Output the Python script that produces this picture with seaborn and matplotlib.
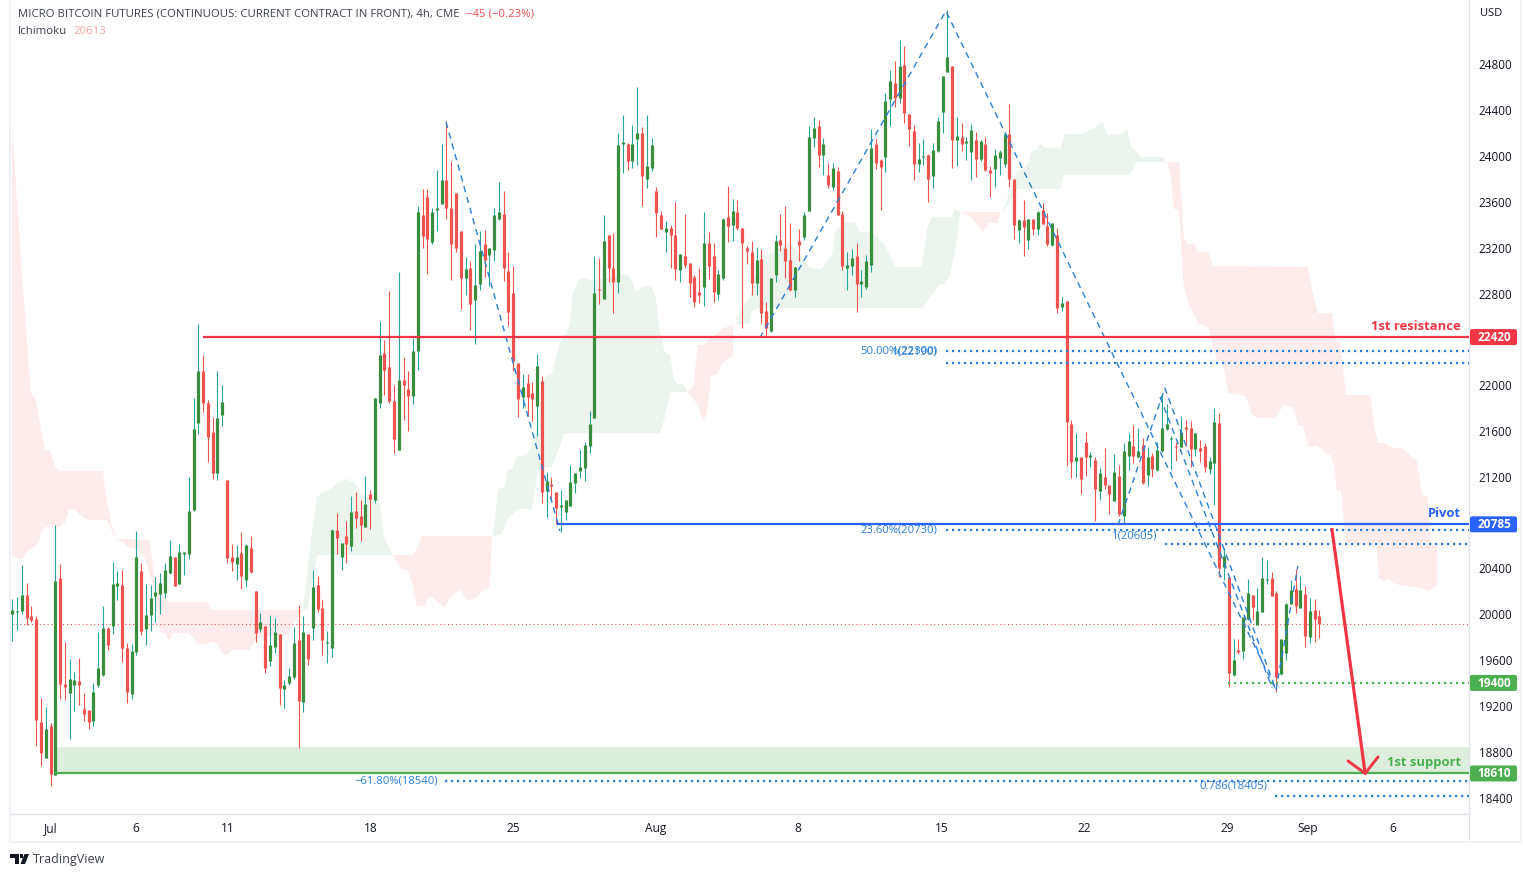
import matplotlib
matplotlib.use("Agg")
import matplotlib.pyplot as plt
from matplotlib.patches import Polygon, Rectangle, FancyBboxPatch
from matplotlib.transforms import IdentityTransform
import pandas as pd
import seaborn as sns

directions = ("GGGRRRRGRG" "RRGGRRRGGG" "RGGRRGGRGG" "GGGGRGGGGG" "RRRGGRRGRG" "RRGRGGRGGG" "RGRGRRGGRG"
              "RGRRGRGGRR" "RGRRGGRRGG" "GRRRRGRGGR" "GGGRRRRGRR" "GRGRRGGGGG" "GGGRGRRGGR" "GGRGGRRGRR"
              "GRRRRGRRGG" "RGRRRRGRRG" "GRRRGRGGGR" "GRGRRGGRGG" "GRRGGRGRRR" "GGRGGGGRGR" "GGRGRRGGGR"
              "RGRGRGRRGR" "GRRGRRGRGR" "RGRGGRGRGR" "GGGGRGRRGR" "RGGRGRGRGG" "RGGGRRGGGR" "GRGRR")

highs = [20134,20151,20431,20273,20073,19985,19269,19191,19051,20780,
 20439,19758,19610,19496,19619,19313,19165,19400,19846,20073,
 19889,20457,20378,20387,19750,19741,20727,20448,20265,20256,
 20326,20361,20448,20649,20500,20614,20544,21199,21888,22534,
 22264,21871,21723,22124,22002,21173,20614,20605,20719,20614,
 20684,20204,20013,19899,19996,19968,19827,19423,19534,19889,
 20082,19985,19827,20385,20330,20123,19854,20744,20885,20623,
 20813,21034,21071,20996,21206,21085,21885,22558,22392,22820,
 21999,22985,22244,22123,22416,23561,23716,23709,23551,23875,
 24109,24309,23961,23682,23344,23123,23082,23230,23344,23351,
 23195,23551,23778,23692,23161,23037,22192,22098,22098,22029,
 22273,22081,21243,21199,21068,21086,20998,21304,21234,21435,
 21505,21775,23129,23111,23486,23312,23329,24202,24359,24115,
 24272,24604,24255,24359,24159,23731,23521,23434,23399,23600,
 23146,23495,23067,22963,23024,23513,23338,23242,23006,23460,
 23740,23626,23617,23373,23216,23259,23207,23190,22727,22936,
 23311,23495,23565,23416,23032,23364,23512,24263,24342,24315,
 24158,23940,23940,23905,23521,23163,23189,23242,23006,23137,
 24237,24150,23975,24551,24752,24830,25014,24961,24368,24272,
 24115,24150,24019,24115,24342,24699,25276,24787,24342,24289,
 24167,24280,24211,24141,24167,23914,24062,24054,24193,24455,
 23800,23451,23617,23451,23451,23521,23591,23503,23416,23373,
 22770,22735,21696,21583,21373,21592,21417,21373,21277,21452,
 21129,21400,21304,21496,21583,21653,21627,21539,21461,21408,
 21504,21915,21836,21557,21504,21731,21696,21688,21583,21522,
 21496,21373,21801,21757,20579,20326,19784,19784,19977,20308,
 20169,20230,20500,20474,20369,20204,19784,20099,20300,20396,
 20334,20247,20142,20134,20038]

tops = [20038,20029,20169,20169,19985,19959,19060,19001,19025,20291,
 20317,19392,19435,19427,19418,19173,19165,19322,19531,19881,
 19881,20265,20273,20256,19706,19680,20500,20378,19994,20142,
 20195,20273,20387,20509,20500,20544,20544,20902,21618,22124,
 22124,21845,21592,21714,21854,21173,20500,20500,20535,20605,
 20579,20204,19934,19899,19734,19847,19827,19385,19461,19751,
 19775,19847,19827,20237,20254,20054,19758,20737,20737,20623,
 20682,20892,20903,20858,20961,21051,21885,22261,22278,22158,
 21861,22044,22044,21965,22296,23516,23482,23647,23509,23551,
 23795,23795,23551,23682,23344,23013,23020,22871,23168,23237,
 23195,23482,23509,23492,22995,22809,22192,21985,22020,21932,
 22168,22037,21164,21138,21068,20955,20998,21156,21234,21287,
 21479,21662,22805,22840,23259,23312,23024,24098,24124,24106,
 24106,24202,24202,23914,24098,23696,23486,23373,23373,23312,
 23146,23129,23067,22945,22814,23242,23242,23129,22971,23452,
 23469,23521,23513,23373,23198,23163,23094,23102,22648,22936,
 23259,23268,23198,23093,23032,23259,23486,24167,24246,24263,
 24106,23835,23896,23870,23495,23050,23111,23128,22910,23085,
 24071,24106,23966,24481,24656,24638,24787,24796,24368,24219,
 23975,24001,24010,24054,24307,24699,24865,24787,24176,24167,
 24132,24228,24141,24132,24106,23879,24010,24036,24193,24193,
 23800,23442,23442,23451,23451,23512,23530,23390,23416,23311,
 22718,22735,21661,21373,21373,21504,21391,21347,21234,21199,
 21129,21242,21208,21426,21513,21469,21426,21478,21373,21382,
 21434,21627,21661,21539,21469,21592,21635,21627,21583,21452,
 21469,21338,21679,21670,20509,20326,19601,19689,19977,20186,
 20169,20029,20317,20308,20317,20186,19784,20090,20212,20221,
 20212,20177,20029,20038,19985]

bottoms = [20006,20020,20029,19971,19950,19077,18789,18746,18606,18597,
 19392,19366,19313,19383,19383,19130,19060,19069,19383,19470,
 19732,19898,20247,19706,19322,19304,19671,19854,19872,19994,
 20160,20177,20186,20361,20247,20265,20527,20527,20911,21670,
 21845,21548,21234,21234,21740,20492,20457,20439,20335,20300,
 20369,19837,19872,19534,19592,19716,19358,19347,19403,19454,
 19244,19237,19609,19882,20047,19775,19751,19706,20665,20499,
 20613,20596,20840,20778,20761,21006,20996,21844,22130,21858,
 21530,21433,21999,21902,21902,22296,23299,23275,23254,23533,
 23578,23544,23230,23195,22933,22940,22706,22740,22882,23089,
 23137,23182,23451,23020,22640,22213,21882,21898,21898,21880,
 21819,21068,21077,21121,20929,20937,20894,20946,21147,21252,
 21278,21470,21714,22832,22753,23024,22901,22901,24106,23958,
 23958,24150,23827,23801,23897,23504,23364,23338,23312,23015,
 23006,23050,22893,22727,22788,22858,23041,22814,22797,22936,
 23390,23399,23373,23242,23172,22893,22893,22631,22500,22473,
 22962,23224,23085,22831,22831,23224,23294,23521,24158,24010,
 24010,23748,23730,23486,23041,23023,23041,22884,22884,22857,
 23050,23940,23905,23992,24499,24507,24507,24376,24237,23931,
 23931,23992,23800,23827,24045,24385,24734,24141,24141,24106,
 24115,24036,23975,23975,23879,23853,23888,23984,23931,23800,
 23399,23355,23381,23268,23364,23364,23407,23233,23224,22674,
 22683,21679,21330,21338,21181,21373,21373,21094,21077,21129,
 21050,20989,20876,20858,21382,21382,21373,21146,21216,21269,
 21260,21426,21618,21530,21461,21461,21618,21443,21443,21426,
 21286,21269,21321,20404,20413,19488,19470,19671,19680,19959,
 20064,19907,20020,20300,20160,19453,19479,19662,20090,20073,
 20055,19811,19802,19959,19915]

lows = [19770,19863,20003,19907,19933,18850,18676,18746,18501,18597,
 19261,19252,18912,19156,19208,19069,18999,19025,19366,19461,
 19688,19828,20125,19584,19226,19261,19645,19819,19732,19854,
 19933,20003,20142,20352,20247,20265,20343,20483,20902,21574,
 21766,21330,21181,21173,21644,20448,20378,20300,20221,20238,
 20361,19758,19847,19489,19551,19658,19210,19178,19379,19437,
 18830,19147,19561,19775,20020,19644,19575,19627,20527,20382,
 20447,20554,20754,20641,20761,20744,20975,21802,21913,21844,
 21406,21433,21696,21599,21833,22130,23202,22975,23237,23344,
 23578,23447,22916,23161,22661,22785,22478,22358,22827,22947,
 22864,23082,23444,22906,22513,22123,21720,21802,21740,21688,
 21557,20972,20850,20990,20789,20719,20824,20946,21060,21190,
 21164,21409,21714,22709,22753,22901,22631,22805,23853,23879,
 23897,23923,23565,23722,23871,23294,23364,23163,23024,22919,
 22901,23024,22771,22683,22718,22692,22928,22727,22744,22919,
 23251,23259,23356,22500,23059,22788,22788,22544,22430,22465,
 22901,23172,22936,22823,22770,23085,23268,23521,24080,23905,
 23835,23722,23704,23486,23006,22831,22962,22639,22770,22840,
 22988,23888,23530,23861,24263,24429,24464,24289,24088,23792,
 23861,23923,23599,23722,24036,24202,24734,23896,23914,24045,
 23966,23792,23818,23957,23870,23643,23730,23835,23905,23730,
 23277,23242,23128,23189,23311,23311,23407,23215,23215,22631,
 22648,21295,21190,21199,21050,21207,21286,20815,20998,21094,
 20876,20989,20858,20788,21260,21321,21373,21138,21120,21199,
 21251,21417,21609,21269,21338,21461,21469,21289,21382,21330,
 21242,21225,20954,20326,20300,19366,19462,19654,19610,19950,
 19950,19907,20020,20265,20160,19322,19470,19601,20090,20012,
 20055,19715,19749,19758,19793]

# Ichimoku cloud outlines: (bar index, price)
cloud_red = [
 [(-0.1,24272),(2.4,22744),(3.9,21932),(4.9,21871),(6.8,21434),(7.9,21434),(8.9,21286),(10,21251),(19,21251),
  (19.8,20998),(20.9,20762),(21.9,20648),(23,20657),(28.8,20648),(29.9,20299),(30.9,20212),(32.6,20107),(41,20107),
  (41.8,20037),(60.9,20037),(58.8,19915),(57.8,19819),(51.9,19801),(50.9,19775),(49.8,19688),(46,19688),(45,19644),
  (43.9,19662),(42.9,19749),(41.8,19758),(40.8,19740),(38.9,19740),(37.9,19801),(36.8,19836),(33.7,19836),(32.8,19758),
  (32,19836),(30.9,19845),(29.5,20238),(28.4,20413),(27.4,20517),(26.1,20570),(24.2,20587),(23,20640),(21.9,20640),
  (19.8,20823),(15.9,20823),(14.8,20849),(12.9,20919),(11.9,20919),(11,20805),(10,20762),(7,20762),(6.4,20736),
  (5.4,20622),(3.1,20543),(2,20482),(1,20482),(-0.1,20517)],
 [(79.8,20517),(83.8,20517),(84.8,20570),(85.9,20683),(100.5,20683),(100.1,20229),(98.7,20212),(97.4,20151),(95.3,20116),
  (93.8,20212),(91.7,20151),(90.7,20055),(89.2,20107),(88,20151),(87.1,20151),(86.5,20072),(84.8,20072),(83.8,20282),
  (82.9,20378),(81.3,20404)],
 [(141.6,21940),(142.7,21984),(143.7,22351),(144.8,22351),(146.7,22421),(149,22499),(151.1,22517),(151.1,22263),
  (149,22202),(147.7,22089),(146.5,22089),(145.6,21757),(144.8,21687),(143.7,21827),(142.5,21897)],
 [(198.7,23512),(207,23512),(206.6,23416),(204.7,23416),(203.5,23337),(200.8,23477),(199.3,23495)],
 [(242.1,23949),(244.6,23949),(245.6,23285),(246.5,23233),(247.7,23233),(248.6,23163),(250.7,23163),(251.7,23041),
  (271.6,23032),(272.7,22787),(273.7,22630),(276.6,22630),(277.5,22386),(278.3,22386),(279.6,21914),(284.6,21914),
  (285.7,21609),(286.3,21495),(287.8,21495),(289.4,21451),(291.3,21451),(293.4,21373),(294.5,21338),(295.5,21041),
  (296.6,21032),(297.6,20605),(298.7,20605),(298.7,20255),(296.8,20203),(295.7,20229),(290.9,20255),(289.4,20273),
  (288.6,20316),(287.3,20290),(286.5,20316),(285.9,20605),(279.6,20622),(278.5,21085),(277.7,21085),(276.7,21373),
  (275.2,21417),(273.5,21469),(271.6,21460),(270.6,21644),(269.5,21652),(268.7,21801),(266.4,21827),(264.9,21713),
  (260.9,21713),(259.7,21757),(258.6,21905),(254.9,21932),(253.8,22194),(252.5,22220),(250.7,22499),(248.6,22543),
  (246.7,22700),(245.6,22857),(245,23241),(244.6,23538),(243.5,23538),(242.9,23809)],
]
cloud_green = [
 [(60.9,20037),(62.4,20587),(63.9,21024),(65.1,21067),(66.6,21085),(68,21146),(69.9,21181),(71.8,21146),(72.9,21050),
  (75,21006),(76.9,21006),(77.9,20674),(79.2,20552),(79.8,20517),(63.9,20517),(63.4,20395),(62.4,20177),(61.8,20037)],
 [(100.8,20692),(101.8,21085),(103.3,21120),(103.9,21259),(104.9,21277),(105.6,21373),(107.5,21390),(108.9,21460),
  (110,21652),(111.2,22063),(113.1,22106),(114.8,22368),(116.9,22525),(117.5,22805),(118.8,22927),(120,22936),(121.7,22910),
  (128.8,22971),(129.9,22910),(130.7,22814),(132,22857),(133.7,22866),(134.7,22805),(135.8,22456),(136.8,22290),(137.9,22264),
  (138.7,22045),(139.5,22010),(140.6,22010),(141.6,21940),(137.9,21940),(136.8,21722),(135.8,21582),(115.8,21582),(113.1,21286),
  (110.6,21286),(110,21207),(108.9,20919),(105.8,20919),(103.9,20832),(102.6,20701),(100.8,20683)],
 [(151.9,22525),(151.7,22587),(154.6,22770),(156.1,23006),(156.7,23137),(158.8,23145),(163,23250),(164.7,23154),(167.2,23023),
  (169.7,23014),(171.8,23137),(172.7,23355),(174.5,23416),(176.6,23425),(177.7,23337),(180.2,23337),(182.9,23224),(185,23032),
  (186.7,23032),(190.7,23032),(191.7,23355),(192.8,23468),(197,23468),(197.6,23538),(198.7,23512),(197.6,23154),(196.6,22979),
  (195.5,22883),(194.5,22883),(190.7,22674),(156.7,22674),(155,22656),(154.6,22543)],
 [(207.5,23495),(208.7,23643),(210.6,23861),(212.7,23922),(213.8,24045),(214.6,24053),(215.6,24114),(216.5,24071),(219,24071),
  (219.6,24053),(220.7,24193),(224.4,24193),(225.3,24219),(227,24245),(227.8,24280),(228.6,24289),(229.7,24176),(230.7,24193),
  (231.6,24184),(232.6,24202),(233.7,24237),(234.7,24071),(235.6,24053),(236.6,23992),(241.2,23992),(241.8,23949),(235.6,23949),
  (234.7,23870),(233.7,23835),(220.5,23835),(219.6,23713),(210.6,23713),(209.6,23634)],
]

# Price levels and drawings
resistance, pivot, support, support_top, swing_low, last_close = 22420, 20785, 18610, 18840, 19400, 19915
fib_levels = [(22298,195.7),(22198,195.7),(20736,195.7),(20609,241.6),(18548,90.7),(18413,264.7)]
fib_labels = [("50.00%(22300)",194,22298),("1(22190)",194,22290),("23.60%(20730)",194,20736),
              ("1(20605)",240,20685),("\u221261.80%(18540)",89.2,18544),("0.786(18405)",263,18500)]
zigzags = [
 [(90.9,24298),(114.8,20727)],
 [(156.7,22412),(195.7,25267),(264.9,19339)],
 [(231.8,20779),(241.6,21975),(264.9,19339)],
 [(240.6,21897),(264.1,19356)],
 [(264.9,19339),(269.5,20421)],
]
arrow_shaft = [(276.6,20753),(283.6,18610)]
arrow_head = [(280,18719),(283.6,18610),(286.3,18754)]
axis_ticks = [24800,24400,24000,23600,23200,22800,22000,21600,21200,20400,20000,19600,19200,18800,18400]
time_ticks = [8,25.8,45.2,75.2,105,134.8,164.7,194.8,224.8,254.7,271.6,289.5]
time_labels = ["Jul","6","11","18","25","Aug","8","15","22","29","Sep","6"]

sns.set_theme(style="white")
plt.rcParams['font.family'] = ['Open Sans', 'DejaVu Sans']

W, H = 1523, 876
fig = plt.figure(figsize=(W/100, H/100), dpi=100, facecolor="white")
ax = fig.add_axes([11/W, (H-814)/H, (1469-11)/W, 814/H])
RED, GREEN, BLUE = "#f23645", "#4caf50", "#2962ff"
BODY_R, BODY_G, WICK_R, WICK_G = "#ef5350", "#388e3c", "#ef5350", "#26a69a"
FIB = "#2a7fd8"
TXT = "#3d414d"
XR = 305.37

for poly in cloud_red:
    ax.fill(*zip(*poly), color="#fdeceb", lw=0, zorder=1)
for poly in cloud_green:
    ax.fill(*zip(*poly), color="#ecf5ed", lw=0, zorder=1)

ax.add_patch(Rectangle((8.9, support), XR-8.9, support_top-support, color="#ddeedd", lw=0, zorder=1.2))

ax.hlines(last_close, 0, XR, color="#ef5350", lw=0.8, linestyles=(0,(1,2.5)), zorder=1.5)

wicks, bodies = [], []
for i, d in enumerate(directions):
    wicks += [(i, highs[i], d), (i, lows[i], d)]
    bodies += [(i, tops[i], d), (i, bottoms[i], d)]
wicks = pd.DataFrame(wicks, columns=["bar","price","dir"])
bodies = pd.DataFrame(bodies, columns=["bar","price","dir"])

for d, wc, bc in (("G", WICK_G, BODY_G), ("R", WICK_R, BODY_R)):
    sns.lineplot(data=wicks[wicks.dir == d], x="bar", y="price", units="bar", estimator=None, sort=False,
                 color=wc, linewidth=0.8, solid_capstyle="butt", legend=False, ax=ax, zorder=3)
    sns.lineplot(data=bodies[bodies.dir == d], x="bar", y="price", units="bar", estimator=None, sort=False,
                 color=bc, linewidth=2.3, solid_capstyle="butt", legend=False, ax=ax, zorder=3.5)

for z in zigzags:
    ax.plot(*zip(*z), color=FIB, lw=1.0, ls=(0,(4.5,3.5)), zorder=4)

ax.hlines(resistance, 40, XR, color=RED, lw=1.6, zorder=5)
ax.hlines(pivot, 114.2, XR, color=BLUE, lw=1.6, zorder=5)
ax.hlines(support, 8.9, XR, color=GREEN, lw=1.6, zorder=5)
ax.hlines(swing_low, 254.8, XR, color=GREEN, lw=1.6, linestyles=(0,(1,1.7)), zorder=5)
for lvl, start in fib_levels:
    ax.hlines(lvl, start, XR, color=FIB, lw=1.6, linestyles=(0,(1,1.7)), zorder=5)
for txt, xp, yp in fib_labels:
    ax.text(xp, yp, txt, color=FIB, fontsize=8.1, ha="right", va="center", zorder=6)

ax.plot(*zip(*arrow_shaft), color=RED, lw=2.3, solid_capstyle="butt", zorder=6)
ax.plot(*zip(*arrow_head), color=RED, lw=2.1, solid_joinstyle="miter", zorder=6)

ax.text(303.7, 22510, "1st resistance", color=RED, fontsize=9.4, fontweight="bold", ha="right", va="center", zorder=7)
ax.text(303.7, 20880, "Pivot", color=BLUE, fontsize=9.4, fontweight="bold", ha="right", va="center", zorder=7)
ax.text(303.7, 18710, "1st support", color=GREEN, fontsize=9.4, fontweight="bold", ha="right", va="center", zorder=7)

ax.set_xlim(-0.29, XR)
ax.set_ylim(18256, 25363)
ax.set_xlabel(""); ax.set_ylabel("")
ax.yaxis.tick_right()
ax.set_yticks(axis_ticks)
ax.set_yticklabels([str(t) for t in axis_ticks])
ax.set_xticks(time_ticks)
ax.set_xticklabels(time_labels)
ax.tick_params(axis="y", length=0, pad=7, labelsize=8.4, labelcolor="#131722")
ax.tick_params(axis="x", length=0, pad=5.8, labelsize=8.6, labelcolor="#131722")
ax.grid(False)
for s in ("top", "left"):
    ax.spines[s].set_visible(False)
for s in ("bottom", "right"):
    ax.spines[s].set_color("#e0e3eb")
    ax.spines[s].set_linewidth(1.0)

# price badges on the axis
for val, col in ((resistance, RED), (pivot, BLUE), (swing_low, GREEN), (support, GREEN)):
    yd = ax.transData.transform((0, val))[1]
    fig.add_artist(FancyBboxPatch((1470, yd-8), 47, 16, boxstyle="round,pad=0,rounding_size=2",
                                  fc=col, ec="none", transform=IdentityTransform(), zorder=5))
    fig.text(1494/W, yd/H-0.3/H, str(val), color="white", fontsize=8.6, fontweight="bold",
             ha="center", va="center", zorder=6)
fig.text(1480/W, 1-13/H, "USD", fontsize=8.0, color="#131722", ha="left", va="center")

# header
fig.text(18/W, 1-14/H, "MICRO BITCOIN FUTURES (CONTINUOUS: CURRENT CONTRACT IN FRONT), 4h, CME",
         fontsize=8.2, color=TXT, ha="left", va="center")
fig.text(466/W, 1-14/H, "\u221245 (\u22120.23%)", fontsize=8.2, color="#ef5350", ha="left", va="center")
fig.text(18/W, 1-31/H, "Ichimoku", fontsize=8.2, color=TXT, ha="left", va="center")
fig.text(73/W, 1-31/H, "20613", fontsize=8.2, color="#f5a5a3", ha="left", va="center")

# outer frame
frame = "#eff1f7"
def px_rect(x0, y0, x1, y1, c):
    fig.add_artist(Rectangle((x0/W, 1-y1/H), (x1-x0)/W, (y1-y0)/H, transform=fig.transFigure, color=c, lw=0))
px_rect(9, 0, 11, 843, frame)
px_rect(9, 841, 1522, 843, frame)
px_rect(1520, 0, 1522, 843, frame)
px_rect(1469, 814, 1470, 841, "#e0e3eb")

# TradingView wordmark
def px_poly(pts, c="#131722"):
    fig.add_artist(Polygon([(x/W, 1-y/H) for x, y in pts], transform=fig.transFigure, color=c, lw=0))
px_poly([(10,854),(19,854),(19,864),(15,864),(15,858),(10,858)])
px_poly([(24.5,854),(29,854),(25,864),(20.5,864)])
fig.add_artist(Rectangle((19.5/W, 1-858/H), 3/W, 3.6/H, transform=fig.transFigure, color="#131722", lw=0))
fig.text(33/W, 1-859/H, "TradingView", fontsize=9.0, color=TXT, ha="left", va="center")

fig.savefig("out.png", dpi=100, facecolor="white")
